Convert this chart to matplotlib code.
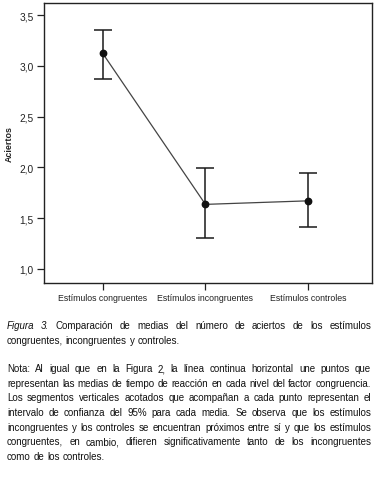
import numpy as np
import matplotlib
matplotlib.use('Agg')
import matplotlib.pyplot as plt

categorias = ['Estímulos congruentes', 'Estímulos incongruentes', 'Estímulos controles']
medias = [3.125, 1.635, 1.67]
ic_inf = [2.87, 1.30, 1.41]
ic_sup = [3.35, 1.99, 1.94]
yticks = [1.0, 1.5, 2.0, 2.5, 3.0, 3.5]

caption_lines = [
    ['Figura 3.', 'Comparación de medias del número de aciertos de los estímulos'],
    ['', 'congruentes, incongruentes y controles.'],
]
nota_lines = [
    'Nota: Al igual que en la Figura 2, la línea continua horizontal une puntos que',
    'representan las medias de tiempo de reacción en cada nivel del factor congruencia.',
    'Los segmentos verticales acotados que acompañan a cada punto representan el',
    'intervalo de confianza del 95% para cada media. Se observa que los estímulos',
    'incongruentes y los controles se encuentran próximos entre sí y que los estímulos',
    'congruentes, en cambio, difieren significativamente tanto de los incongruentes',
    'como de los controles.',
]

plt.rcParams['font.family'] = ['Liberation Sans', 'DejaVu Sans']

W, H = 378, 489
fig = plt.figure(figsize=(W / 100, H / 100), dpi=100)
fig.canvas.draw()
r = fig.canvas.get_renderer()


def width(s, size, style='normal'):
    t = fig.text(0, 0, s, fontsize=size, style=style)
    w = t.get_window_extent(r).width
    t.remove()
    return w


# tamano de letra de las etiquetas del eje x (ancho ~91 px en la referencia)
tick_fs = 10 * 90 / width(categorias[0], 10)

ax = fig.add_axes([44 / W, 1 - 284 / H, (372 - 44) / W, (284 - 4) / H])

x = np.arange(len(categorias))
m = np.array(medias)
yerr = [m - np.array(ic_inf), np.array(ic_sup) - m]
ax.plot(x, m, color='#444444', lw=0.9, zorder=2)
ax.errorbar(x, m, yerr=yerr, fmt='none', ecolor='#1a1a1a', elinewidth=1.1,
            capsize=6.8, capthick=1.1, zorder=3)
ax.plot(x, m, 'o', color='#111111', ms=4.6, zorder=4)

ax.set_xlim(-0.57, 2.62)
ax.set_ylim(0.86, 3.62)
ax.set_xticks(x)
ax.set_xticklabels(categorias, fontsize=tick_fs)
ax.set_yticks(yticks)
ax.set_yticklabels([('%.1f' % v).replace('.', ',') for v in yticks], fontsize=7.3)
ax.tick_params(direction='out', length=5, width=0.9, pad=2.5, colors='#222222')
for s in ax.spines.values():
    s.set_linewidth(1.0)
    s.set_color('#222222')
ax.set_ylabel('Aciertos', fontsize=6.4, fontweight='bold', color='#222222', labelpad=4)

# texto justificado debajo del grafico
x0, x1 = 7, 371
widest = max(width(l, 10) for l in nota_lines)
fs = 10 * (x1 - x0 - 1) / widest


def put_line(words, ypix, justify, styles=None):
    if styles is None:
        styles = ['normal'] * len(words)
    ws = [width(w, fs, st) for w, st in zip(words, styles)]
    if justify and len(words) > 1:
        gap = (x1 - x0 - sum(ws)) / (len(words) - 1)
    else:
        gap = width('a b', fs) - width('ab', fs)
    xp = x0
    for w, st, wd in zip(words, styles, ws):
        fig.text(xp / W, 1 - ypix / H, w, fontsize=fs, style=st, va='baseline',
                 ha='left', color='#111111')
        xp += wd + gap


cap1 = caption_lines[0][0].split() + caption_lines[0][1].split()
put_line(cap1, 329, True, ['italic', 'italic'] + ['normal'] * (len(cap1) - 2))
put_line(caption_lines[1][1].split(), 344, False)

y = 372
for i, line in enumerate(nota_lines):
    put_line(line.split(), y, i < len(nota_lines) - 1)
    y += 14.7

fig.savefig('out.png', dpi=100)
